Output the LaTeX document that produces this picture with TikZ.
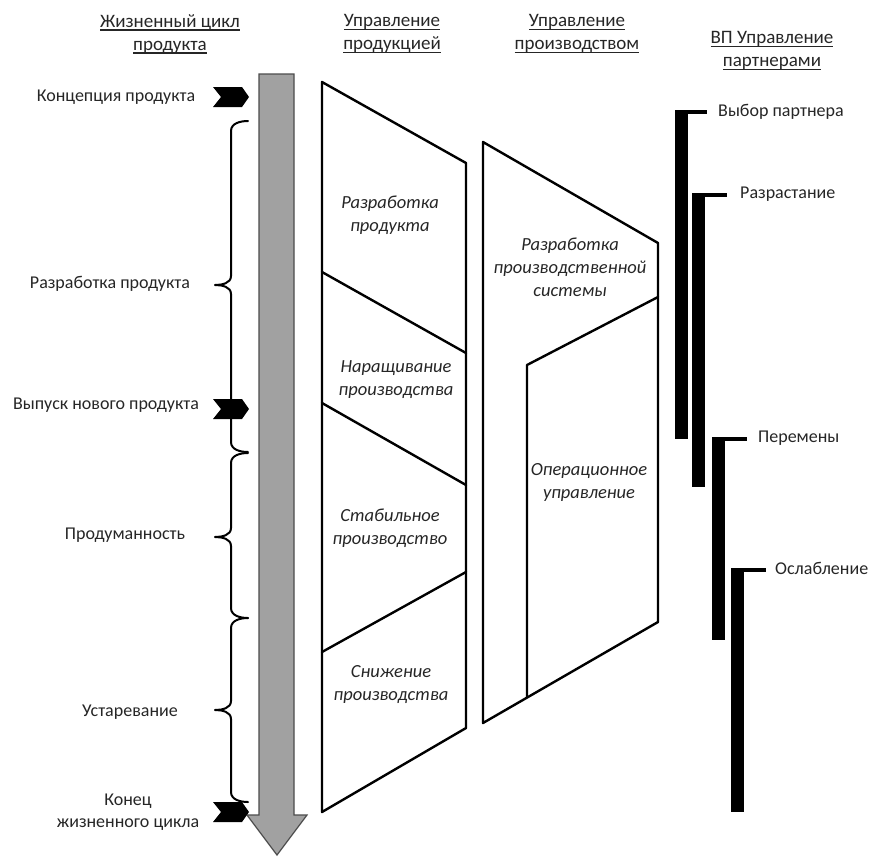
\documentclass[tikz,border=0pt]{standalone}
\usepackage{fontspec}
\setmainfont{Carlito}
\newcommand\hdrul[1]{\setbox0\hbox{#1}\leavevmode\rlap{\raisebox{-3.5pt}{\rule{\wd0}{1.3pt}}}\box0}
\begin{document}
\begin{tikzpicture}[x=1pt,y=-1pt,line join = round, line cap = round,font=\fontsize{18}{22}\selectfont,
		lbl/.style={text=black!85,align=center,inner sep=0pt},
		hdr/.style={lbl,font=\fontsize{19}{23}\selectfont},
		stage/.style={lbl,font=\fontsize{18.5}{23}\selectfont\itshape},
		frame/.style={line width=2.4pt},
		tick/.style={line width=4pt,line cap=butt}]
	\useasboundingbox (0,0) rectangle (872,857);
	\def \xa{322}
	\def \xb{466}
	\def \xc{483}
	\def \xd{658}
	\path
	(\xa,82) coordinate (P1) (\xb,163) coordinate (P2)
	(\xb,728) coordinate (P3) (\xa,812) coordinate (P4)
	(\xc,142) coordinate (Q1) (\xd,243) coordinate (Q2)
	(\xd,622) coordinate (Q3) (\xc,723) coordinate (Q4)
	(\xd,297) coordinate (R1) (527,365) coordinate (R2) (527,697) coordinate (R3)
	;
	% headers
	\node[hdr] (hLife) at (170,34) {\hdrul{Жизненный цикл}\\\hdrul{продукта}};
	\node[hdr] (hProd) at (392,34) {\hdrul{Управление}\\\hdrul{продукцией}};
	\node[hdr] (hMfg) at (577,34) {\hdrul{Управление}\\\hdrul{производством}};
	\node[hdr] (hPart) at (772,51) {\hdrul{ВП Управление}\\\hdrul{партнерами}};
	% life cycle arrow
	\draw[fill=black!37,draw=black!70,line width=1.2pt,line join=miter] (259,74) -- (294,74) -- (294,815) -- (307,815) -- (277,855) -- (247,815) -- (259,815) -- cycle;
	\foreach \t/\m/\b in {121/285/452,453/537/618,618/710/802}
		\draw[line width=2pt] (248,\t) to[out=180,in=90] (231,\t+10) -- (231,\m-9) to[out=270,in=0] (215,\m) to[out=0,in=90] (231,\m+9) -- (231,\b-10) to[out=270,in=180] (248,\b);
	\foreach \y in {97,409,812}
		\fill (213,\y-10) -- (242,\y-10) -- (249,\y) -- (242,\y+10) -- (213,\y+10) -- (221,\y) -- cycle;
	\node[lbl] (concept) at (116,97) {Концепция продукта};
	\node[lbl] (develop) at (110,284) {Разработка продукта};
	\node[lbl] (launch) at (106,405) {Выпуск нового продукта};
	\node[lbl] (mature) at (125,535) {Продуманность};
	\node[lbl] (decline) at (130,712) {Устаревание};
	\node[lbl] (finish) at (128,812) {Конец\\жизненного цикла};
	% product management
	\draw[frame] (P1) -- (P2) -- (P3) -- (P4) -- cycle;
	\draw[frame] (\xa,272) -- (\xb,353);
	\draw[frame] (\xa,403) -- (\xb,485);
	\draw[frame] (\xa,652) -- (\xb,572);
	\node[stage] (sDev) at (390,215) {Разработка\\продукта};
	\node[stage] (sRamp) at (396,380) {Наращивание\\производства};
	\node[stage] (sStable) at (390,528) {Стабильное\\производство};
	\node[stage] (sDown) at (391,685) {Снижение\\производства};
	% production management
	\draw[frame] (Q1) -- (Q2) -- (Q3) -- (Q4) -- cycle;
	\draw[frame] (R1) -- (R2) -- (R3);
	\node[stage] (sSys) at (570,267) {Разработка\\производственной\\системы};
	\node[stage] (sOps) at (589,482) {Операционное\\управление};
	% partners
	\foreach \xl/\yt/\yb/\xt in {675/110/439/707,692/193/487/727,712/437/640/747,731/568/812/766}{
		\fill (\xl,\yt) rectangle (\xl+13,\yb);
		\draw[tick] (\xl+1,\yt+2) -- (\xt,\yt+2);
	}
	\node[lbl,anchor=west] (pChoice) at (718,112) {Выбор партнера};
	\node[lbl,anchor=west] (pGrow) at (740,194) {Разрастание};
	\node[lbl,anchor=west] (pChange) at (758,438) {Перемены};
	\node[lbl,anchor=west] (pFade) at (775,568) {Ослабление};
\end{tikzpicture}
\end{document}
